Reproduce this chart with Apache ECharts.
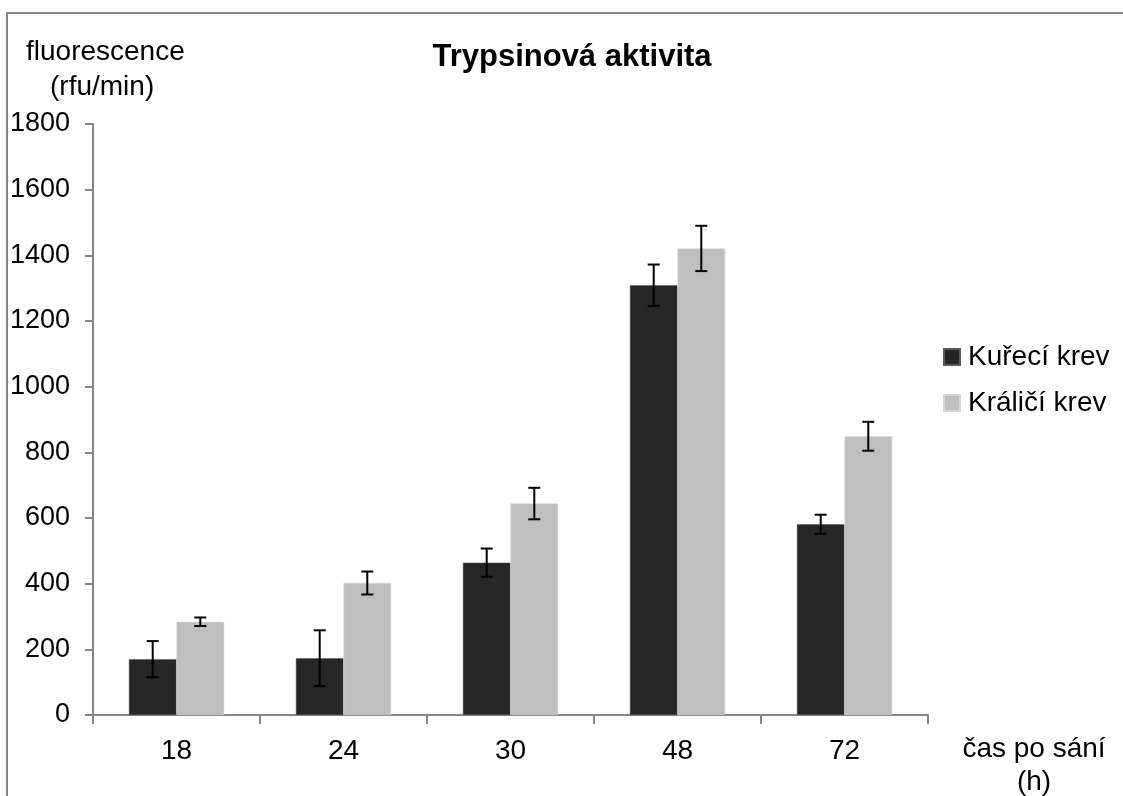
<!DOCTYPE html>
<html>
<head>
<meta charset="utf-8">
<script src="https://cdn.jsdelivr.net/npm/echarts@6/dist/echarts.min.js"></script>
<style>
  html, body { margin: 0; padding: 0; background: #fff; }
  #chart { width: 1123px; height: 796px; }
</style>
</head>
<body>
<div id="chart"></div>
<script>
// hodnoty
var categories = ['18', '24', '30', '48', '72']
var seriesNames = ['Kuřecí krev', 'Králičí krev']
var kureci = [170, 173, 464, 1309, 581]
var kureciErr = [55, 85, 43, 63, 29]
var kralici = [284, 402, 644, 1421, 849]
var kraliciErr = [13, 35, 48, 69, 44]
var yTicks = [0, 200, 400, 600, 800, 1000, 1200, 1400, 1600, 1800]

var font = 'Liberation Sans'
var axisGrey = '#868686'
var gapRatio = 0.43

function errorSeries(name, values, errs, side) {
  var rows = values.map(function (v, i) { return [i, v, errs[i]] })
  return {
    name: name,
    type: 'custom',
    z: 5,
    silent: true,
    data: rows,
    encode: { x: 0, y: 1 },
    renderItem: function (params, api) {
      var idx = api.value(0)
      var val = api.value(1)
      var err = api.value(2)
      var band = api.size([1, 0])[0]
      var barW = band * (1 - gapRatio) / 2
      var c = api.coord([idx, val])
      var x = c[0] + side * barW / 2
      var top = api.coord([idx, val + err])[1]
      var bot = api.coord([idx, val - err])[1]
      var cap = 6
      var st = { stroke: '#000', lineWidth: 2 }
      return {
        type: 'group',
        children: [
          { type: 'line', shape: { x1: x, y1: top, x2: x, y2: bot }, style: st },
          { type: 'line', shape: { x1: x - cap, y1: top, x2: x + cap, y2: top }, style: st },
          { type: 'line', shape: { x1: x - cap, y1: bot, x2: x + cap, y2: bot }, style: st }
        ]
      }
    }
  }
}

var chart = echarts.init(document.getElementById('chart'))
chart.setOption({
  backgroundColor: '#fff',
  animation: false,
  textStyle: { fontFamily: font },
  title: {
    text: 'Trypsinová aktivita',
    left: 567,
    textAlign: 'center',
    top: 37,
    textStyle: { fontSize: 31, fontWeight: 'bold', color: '#000', fontFamily: font }
  },
  graphic: [
    {
      type: 'rect',
      shape: { x: 7, y: 13, width: 1120, height: 800 },
      style: { fill: 'none', stroke: axisGrey, lineWidth: 2 },
      silent: true
    },
    {
      type: 'text',
      x: 26,
      y: 38,
      style: { text: 'fluorescence', fontSize: 28, fontFamily: font, fill: '#000' }
    },
    {
      type: 'text',
      x: 50,
      y: 73,
      style: { text: '(rfu/min)', fontSize: 28, fontFamily: font, fill: '#000' }
    },
    {
      type: 'text',
      x: 1034,
      y: 733,
      style: {
        text: 'čas po sání\n(h)',
        fontSize: 28,
        fontFamily: font,
        fill: '#000',
        align: 'center',
        lineHeight: 33
      }
    }
  ],
  legend: {
    data: seriesNames,
    orient: 'vertical',
    left: 943,
    top: 343,
    padding: 0,
    itemWidth: 16,
    itemHeight: 16,
    itemGap: 18,
    icon: 'rect',
    textStyle: { fontSize: 28, color: '#000', fontFamily: font, padding: [0, 0, 0, 3] }
  },
  grid: { left: 93, right: 195, top: 124, bottom: 81, outerBoundsMode: 'none' },
  xAxis: {
    type: 'category',
    data: categories,
    axisLine: { lineStyle: { color: axisGrey, width: 2 } },
    axisTick: { show: true, length: 9, alignWithLabel: false, lineStyle: { color: axisGrey, width: 2 } },
    axisLabel: { fontSize: 28, color: '#000', margin: 22, fontFamily: font },
    splitLine: { show: false }
  },
  yAxis: {
    type: 'value',
    min: yTicks[0],
    max: yTicks[yTicks.length - 1],
    interval: yTicks[1] - yTicks[0],
    axisLine: { show: true, lineStyle: { color: axisGrey, width: 2 } },
    axisTick: { show: true, length: 8, lineStyle: { color: axisGrey, width: 2 } },
    axisLabel: {
      fontSize: 27,
      color: '#000',
      margin: 23,
      fontFamily: font,
      formatter: function (v) { return String(v) }
    },
    splitLine: { show: false }
  },
  series: [
    {
      name: seriesNames[0],
      type: 'bar',
      data: kureci,
      barGap: '0%',
      barCategoryGap: (gapRatio * 100) + '%',
      itemStyle: { color: '#262626', borderColor: '#5a5a5a', borderWidth: 0.5 }
    },
    {
      name: seriesNames[1],
      type: 'bar',
      data: kralici,
      barGap: '0%',
      barCategoryGap: (gapRatio * 100) + '%',
      itemStyle: { color: '#bfbfbf', borderColor: '#d6d6d6', borderWidth: 0.5 }
    },
    errorSeries('err1', kureci, kureciErr, -1),
    errorSeries('err2', kralici, kraliciErr, 1)
  ]
})
</script>
</body>
</html>
